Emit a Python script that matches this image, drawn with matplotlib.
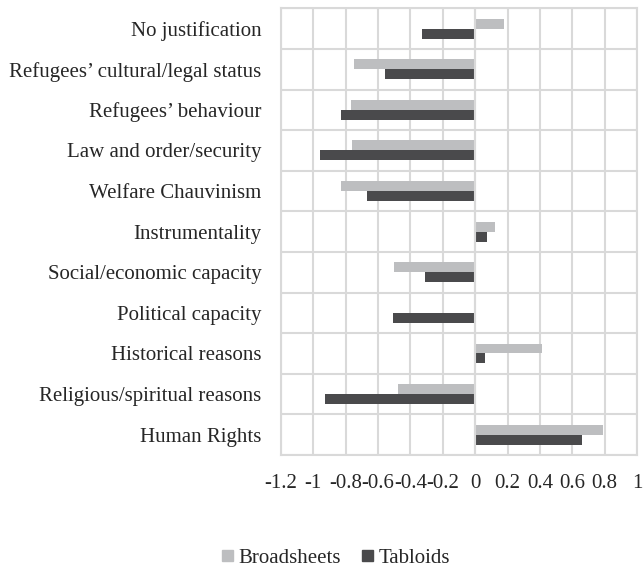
import matplotlib
matplotlib.use("Agg")
from matplotlib import pyplot as plt
from matplotlib.patches import Patch
from matplotlib.ticker import FuncFormatter, MultipleLocator
from numpy import arange

plt.rcParams["font.family"] = ["Liberation Serif", "DejaVu Serif"]
plt.rcParams["axes.unicode_minus"] = False

categories = [
    "No justification",
    "Refugees\u2019 cultural/legal status",
    "Refugees\u2019 behaviour",
    "Law and order/security",
    "Welfare Chauvinism",
    "Instrumentality",
    "Social/economic capacity",
    "Political capacity",
    "Historical reasons",
    "Religious/spiritual reasons",
    "Human Rights",
]
broadsheets = [0.18, -0.75, -0.77, -0.76, -0.83, 0.12, -0.50, 0.0, 0.41, -0.48, 0.79]
tabloids = [-0.33, -0.56, -0.83, -0.96, -0.67, 0.07, -0.31, -0.51, 0.06, -0.93, 0.66]
series_names = ["Broadsheets", "Tabloids"]

LIGHT = "#bdbec0"
DARK = "#4a4a4c"
GRID = "#d9d9d9"
FS = 15

fig = plt.figure(figsize=(6.43, 5.68), dpi=100)
ax = fig.add_axes([0.437, 0.199, 0.5537, 0.7864])

y = arange(len(categories))
h = 0.245
ax.barh(y - h / 2, broadsheets, height=h, color=LIGHT, zorder=3)
ax.barh(y + h / 2, tabloids, height=h, color=DARK, zorder=3)

ax.set_xlim(-1.2, 1.0)
ax.set_ylim(len(categories) - 0.5, -0.5)
ax.xaxis.set_major_locator(MultipleLocator(0.2))
ax.xaxis.set_major_formatter(FuncFormatter(lambda v, _: f"{round(v, 1):g}"))
ax.set_yticks(y)
ax.set_yticklabels(categories)
ax.set_yticks(arange(-0.5, len(categories), 1), minor=True)

ax.set_axisbelow(True)
ax.grid(axis="x", which="major", color=GRID, linewidth=1.5)
ax.grid(axis="y", which="minor", color=GRID, linewidth=1.5)
ax.axvline(0, color=GRID, linewidth=1.5, zorder=4)
for s in ax.spines.values():
    s.set_color(GRID)
    s.set_linewidth(1.5)

ax.tick_params(axis="both", which="both", length=0, labelsize=FS, colors="#262626")
ax.tick_params(axis="x", pad=14)
ax.tick_params(axis="y", pad=14)

handles = [Patch(color=LIGHT), Patch(color=DARK)]
fig.legend(handles, series_names, loc="center", bbox_to_anchor=(0.523, 0.017),
           ncol=2, frameon=False, prop={"family": ["Liberation Serif"], "size": FS},
           handlelength=0.5, handleheight=0.5,
           handletextpad=0.3, columnspacing=1.0, labelcolor="#262626")

fig.savefig("out.png", dpi=100)
